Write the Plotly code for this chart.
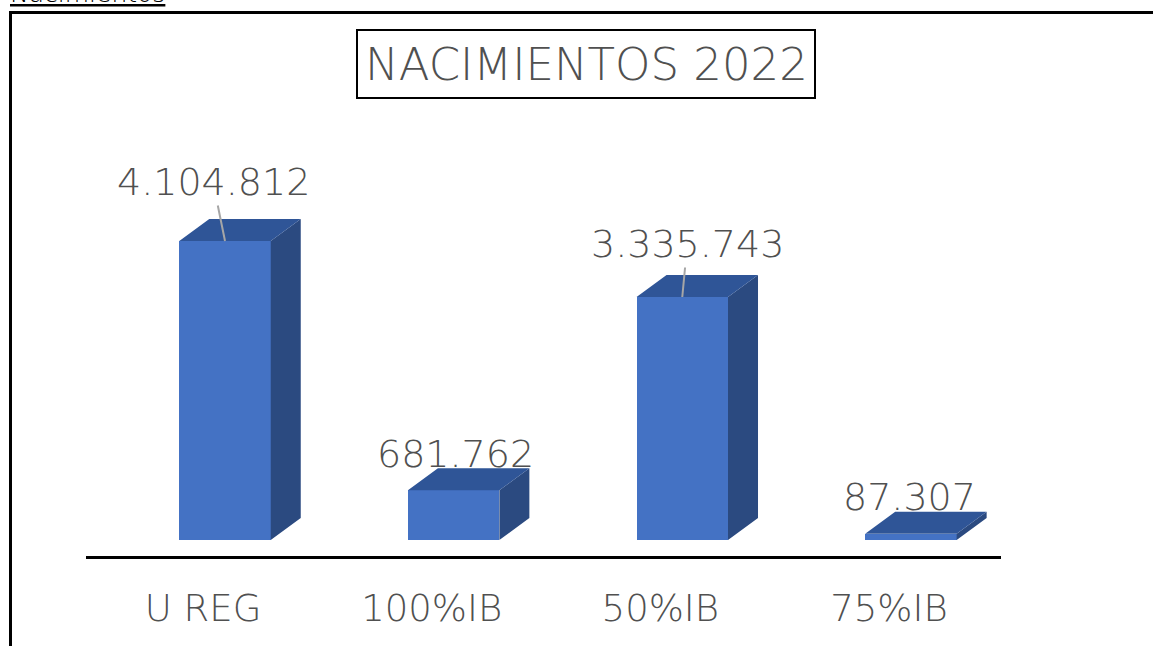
import plotly.graph_objects as go

# ---- data ----
categories = ["U REG", "100%IB", "50%IB", "75%IB"]
values = [4104812, 681762, 3335743, 87307]
value_labels = ["4.104.812", "681.762", "3.335.743", "87.307"]
title_text = "NACIMIENTOS 2022"

# ---- style / geometry ----
FRONT = "#4472C4"
TOP = "#2F5597"
SIDE = "#2B4A80"
TEXT = "#505050"
FONT = "DejaVu Sans"
WEIGHT = 300

W, H = 1153, 646
ML, MR, MT, MB = 86, 152, 120, 90
PW, PH = W - ML - MR, H - MT - MB
x_range = [-0.608, 3.394]
units_per_px_y = 4104812 / 299.0
y_range = [-16 * units_per_px_y, (PH - 16) * units_per_px_y]
units_per_px_x = (x_range[1] - x_range[0]) / PW

bar_w = 0.40
dx = 30 * units_per_px_x
dy = 22 * units_per_px_y

xs = list(range(len(categories)))

fig = go.Figure()
fig.add_trace(go.Bar(x=xs, y=values, width=bar_w, marker=dict(color=FRONT, line=dict(width=0)),
                     hoverinfo="skip", showlegend=False))

# side faces and top faces derived from values
sx, sy, tx, ty = [], [], [], []
for x, v in zip(xs, values):
    r = x + bar_w / 2
    l = x - bar_w / 2
    sx += [r, r + dx, r + dx, r, r, None]
    sy += [0, dy, v + dy, v, 0, None]
    tx += [l, r, r + dx, l + dx, l, None]
    ty += [v, v, v + dy, v + dy, v, None]
fig.add_trace(go.Scatter(x=sx, y=sy, mode="lines", fill="toself", fillcolor=SIDE,
                         line=dict(width=0, color=SIDE), hoverinfo="skip", showlegend=False))
fig.add_trace(go.Scatter(x=tx, y=ty, mode="lines", fill="toself", fillcolor=TOP,
                         line=dict(width=0, color=TOP), hoverinfo="skip", showlegend=False))

# value labels (pixel offsets from front-top centre)
label_offsets = [(-12, -59, True), (2, -36, False), (5, -53, True), (-1, -37, False)]
for x, v, t, (ax, ay, arrow) in zip(xs, values, value_labels, label_offsets):
    if arrow:
        fig.add_annotation(x=x, y=v, text=t, showarrow=True, ax=ax, ay=ay, arrowhead=0,
                           arrowwidth=2, arrowcolor="#A6A6A6",
                           font=dict(family=FONT, size=38, color=TEXT, weight=WEIGHT))
    else:
        fig.add_annotation(x=x + ax * units_per_px_x, y=v, text=t, showarrow=False, yshift=-ay,
                           font=dict(family=FONT, size=38, color=TEXT, weight=WEIGHT))

# title box
def px_to_paper_x(p):
    return (p - ML) / PW

def px_to_paper_y(p):
    return (H - MB - p) / PH

fig.add_shape(type="rect", xref="paper", yref="paper",
              x0=px_to_paper_x(357), x1=px_to_paper_x(815),
              y0=px_to_paper_y(98), y1=px_to_paper_y(30),
              line=dict(color="black", width=2), fillcolor="rgba(0,0,0,0)")
fig.add_annotation(xref="paper", yref="paper", x=px_to_paper_x(586), y=px_to_paper_y(64),
                   text=title_text, showarrow=False, xanchor="center", yanchor="middle",
                   font=dict(family=FONT, size=45, color=TEXT, weight=WEIGHT))

# outer frame (left and top)
fig.add_shape(type="line", xref="paper", yref="paper",
              x0=px_to_paper_x(10.5), x1=px_to_paper_x(10.5),
              y0=px_to_paper_y(11), y1=px_to_paper_y(660), line=dict(color="black", width=3))
fig.add_shape(type="line", xref="paper", yref="paper",
              x0=px_to_paper_x(9), x1=px_to_paper_x(1170),
              y0=px_to_paper_y(12.5), y1=px_to_paper_y(12.5), line=dict(color="black", width=3))

# cut-off header text
fig.add_annotation(xref="paper", yref="paper", x=px_to_paper_x(8), y=px_to_paper_y(10),
                   xanchor="left", yanchor="bottom", text="<u>Nacimientos</u>", showarrow=False,
                   font=dict(family=FONT, size=25, color="black", weight=WEIGHT))

tick_shift = -22 * units_per_px_x
fig.update_layout(
    width=W, height=H,
    margin=dict(l=ML, r=MR, t=MT, b=MB),
    plot_bgcolor="white", paper_bgcolor="white",
    xaxis=dict(range=x_range, tickvals=[x + tick_shift for x in xs], ticktext=categories,
               showgrid=False, zeroline=False, showline=True, linecolor="black", linewidth=2.5,
               ticks="", ticklabelstandoff=18, automargin=False,
               tickfont=dict(family=FONT, size=37, color=TEXT, weight=WEIGHT), fixedrange=True),
    yaxis=dict(range=y_range, visible=False, showgrid=False, zeroline=False, fixedrange=True,
               automargin=False),
    bargap=0,
)

fig.write_html("out.html", config={"displayModeBar": False},
               post_script="document.body.style.margin='0';document.body.style.overflow='hidden';")
